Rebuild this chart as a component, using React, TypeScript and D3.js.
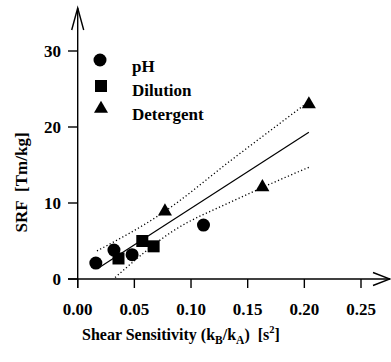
import React from "react";
import * as d3 from "d3";

const W = 391;
const H = 362;

// Data
const phX = [0.016, 0.032, 0.048, 0.111];
const phY = [2.1, 3.8, 3.2, 7.1];
const dilX = [0.036, 0.057, 0.067];
const dilY = [2.7, 5.0, 4.3];
const detX = [0.077, 0.163, 0.204];
const detY = [9.0, 12.2, 23.1];

// Regression fit and confidence bands
const fitX = [0.018, 0.204];
const fitY = [1.4, 19.3];
const upperX = [0.017, 0.074, 0.136, 0.2];
const upperY = [3.7, 8.6, 15.7, 22.9];
const lowerX = [0.033, 0.083, 0.139, 0.204];
const lowerY = [0.2, 6.2, 10.4, 14.7];

const xTicks = [0, 0.05, 0.1, 0.15, 0.2, 0.25];
const yTicks = [0, 10, 20, 30];

const legendLabels = ["pH", "Dilution", "Detergent"];

const FONT = "Liberation Serif, Times New Roman, Times, DejaVu Serif, serif";

export default function App() {
  const x = d3.scaleLinear().domain([0, 0.25]).range([77.7, 361]);
  const y = d3.scaleLinear().domain([0, 30]).range([279, 51]);

  const line = d3
    .line<[number, number]>()
    .x((d) => x(d[0]))
    .y((d) => y(d[1]));
  const curve = d3
    .line<[number, number]>()
    .x((d) => x(d[0]))
    .y((d) => y(d[1]))
    .curve(d3.curveMonotoneX);

  const zip = (a: number[], b: number[]) =>
    a.map((v, i) => [v, b[i]] as [number, number]);

  const tri = (cx: number, cy: number, s: number) => {
    const h = s * 0.87;
    return `M${cx},${cy - h * 0.6}L${cx + s / 2},${cy + h * 0.4}L${cx - s / 2},${cy + h * 0.4}Z`;
  };

  const x0 = x(0);
  const y0 = y(0);
  const textStyle: React.CSSProperties = {
    fontFamily: FONT,
    fontWeight: 700,
    fontSize: 17,
  };

  return (
    <svg
      width={W}
      height={H}
      style={{ position: "absolute", left: 0, top: 0, background: "#fff" }}
    >
      <rect width={W} height={H} fill="#fff" />
      {/* axes */}
      <line x1={x0} y1={288} x2={x0} y2={8} stroke="#000" strokeWidth={1.4} />
      <path d={`M${x0 - 6},30L${x0},8L${x0 + 6},30`} fill="none" stroke="#000" strokeWidth={1.4} />
      <line x1={68} y1={y0} x2={390} y2={y0} stroke="#000" strokeWidth={1.4} />
      <path d={`M373,${y0 - 6.5}L390,${y0}L373,${y0 + 6.5}`} fill="none" stroke="#000" strokeWidth={1.4} />

      {xTicks.map((t) => (
        <g key={"x" + t}>
          <line x1={x(t)} x2={x(t)} y1={y0} y2={y0 + 9} stroke="#000" strokeWidth={1.4} />
          <text x={x(t)} y={315} textAnchor="middle" style={textStyle}>
            {d3.format(".2f")(t)}
          </text>
        </g>
      ))}
      {yTicks.map((t) => (
        <g key={"y" + t}>
          <line x1={68} x2={x0} y1={y(t)} y2={y(t)} stroke="#000" strokeWidth={1.4} />
          <text x={61} y={y(t) + 6} textAnchor="end" style={textStyle}>
            {t}
          </text>
        </g>
      ))}

      {/* axis titles */}
      <text x={82} y={340} style={{ ...textStyle, fontSize: 16 }}>
        <tspan>Shear Sensitivity (k</tspan>
        <tspan fontSize={11.5} dy={4}>B</tspan>
        <tspan dy={-4}>/k</tspan>
        <tspan fontSize={11.5} dy={4}>A</tspan>
        <tspan dy={-4}>{")\u00a0\u00a0[s"}</tspan>
        <tspan fontSize={10.5} dy={-7}>2</tspan>
        <tspan dy={7}>]</tspan>
      </text>
      <text transform="translate(27,182.5) rotate(-90)" textAnchor="middle" style={textStyle}>
        {"SRF\u00a0\u00a0[Tm/kg]"}
      </text>

      {/* fit and bands */}
      <path d={line(zip(fitX, fitY)) || ""} fill="none" stroke="#000" strokeWidth={1.2} />
      <path
        d={curve(zip(upperX, upperY)) || ""}
        fill="none"
        stroke="#000"
        strokeWidth={1.3}
        strokeDasharray="1.2,2.4"
      />
      <path
        d={curve(zip(lowerX, lowerY)) || ""}
        fill="none"
        stroke="#000"
        strokeWidth={1.3}
        strokeDasharray="1.2,2.4"
      />

      {/* points */}
      {phX.map((v, i) => (
        <circle key={"p" + i} cx={x(v)} cy={y(phY[i])} r={6.5} fill="#000" />
      ))}
      {dilX.map((v, i) => (
        <rect key={"d" + i} x={x(v) - 6} y={y(dilY[i]) - 6} width={12} height={12} fill="#000" />
      ))}
      {detX.map((v, i) => (
        <path key={"t" + i} d={tri(x(v), y(detY[i]), 14)} fill="#000" />
      ))}

      {/* legend */}
      <circle cx={100} cy={60} r={6.5} fill="#000" />
      <rect x={95} y={80} width={12} height={12} fill="#000" />
      <path d={tri(101, 108, 14)} fill="#000" />
      {legendLabels.map((l, i) => (
        <text key={l} x={132} y={72 + i * 24} style={textStyle}>
          {l}
        </text>
      ))}
    </svg>
  );
}
